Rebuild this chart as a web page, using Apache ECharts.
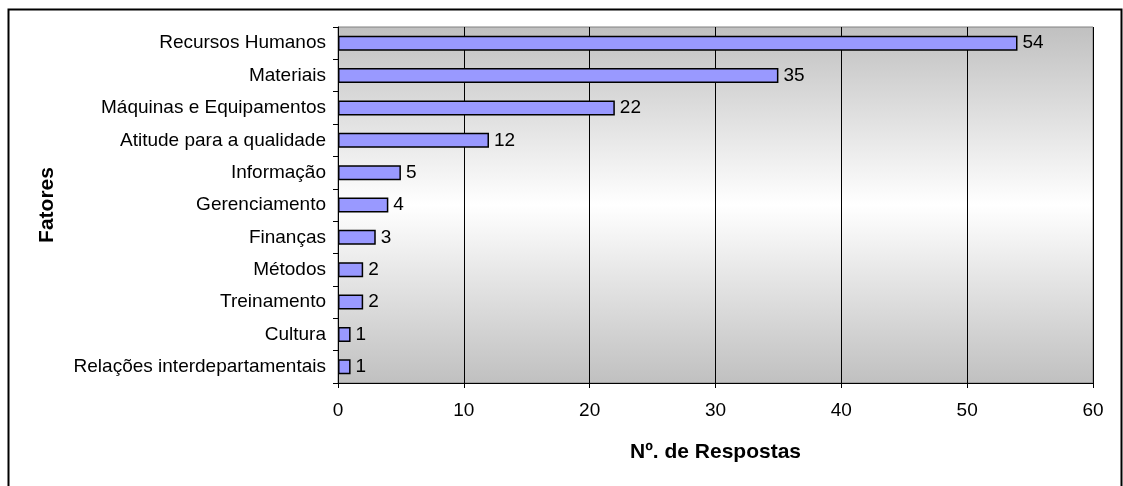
<!DOCTYPE html>
<html>
<head>
<meta charset="utf-8">
<script src="https://cdn.jsdelivr.net/npm/echarts@6/dist/echarts.min.js"></script>
<style>
  html, body { margin: 0; padding: 0; background: #fff; }
  #chart { width: 1123px; height: 486px; }
</style>
</head>
<body>
<div id="chart"></div>
<script>
// categories top-down as in the picture
const fatores = [
    'Recursos Humanos',
    'Materiais',
    'Máquinas e Equipamentos',
    'Atitude para a qualidade',
    'Informação',
    'Gerenciamento',
    'Finanças',
    'Métodos',
    'Treinamento',
    'Cultura',
    'Relações interdepartamentais'
];
const respostas = [54, 35, 22, 12, 5, 4, 3, 2, 2, 1, 1];

const chart = echarts.init(document.getElementById('chart'));

const font = 'Liberation Sans, Arial, sans-serif';

const option = {
    animation: false,
    backgroundColor: '#ffffff',
    textStyle: { fontFamily: font },
    graphic: [
        {
            // frame around the whole picture
            type: 'polyline',
            shape: { points: [[8.5, 500], [8.5, 9.5], [1121.5, 9.5], [1121.5, 500]] },
            style: { stroke: '#000', lineWidth: 2, fill: null },
            z: 100
        }
    ],
    grid: {
        left: 338,
        right: 30,
        top: 27,
        bottom: 103,
        show: true,
        borderColor: '#808080',
        borderWidth: 1,
        backgroundColor: new echarts.graphic.LinearGradient(0, 0, 0, 1, [
            { offset: 0, color: '#c0c0c0' },
            { offset: 0.5, color: '#ffffff' },
            { offset: 1, color: '#c0c0c0' }
        ])
    },
    xAxis: {
        type: 'value',
        min: 0,
        max: 60,
        interval: 10,
        name: 'Nº. de Respostas',
        nameLocation: 'middle',
        nameGap: 59,
        nameTextStyle: { fontFamily: font, fontSize: 21, fontWeight: 'bold', color: '#000' },
        axisLine: { show: true, lineStyle: { color: '#000', width: 1 } },
        axisTick: { show: true, length: 5, lineStyle: { color: '#000' } },
        axisLabel: { fontFamily: font, fontSize: 19, color: '#000', margin: 18 },
        splitLine: { show: true, lineStyle: { color: '#000', width: 1 } }
    },
    yAxis: {
        type: 'category',
        data: fatores,
        inverse: true,
        name: 'Fatores',
        nameLocation: 'middle',
        nameGap: 280,
        nameRotate: 90,
        nameTextStyle: { fontFamily: font, fontSize: 21, fontWeight: 'bold', color: '#000' },
        axisLine: { show: true, lineStyle: { color: '#000', width: 1 } },
        axisTick: { show: true, length: 5, lineStyle: { color: '#000' } },
        axisLabel: { fontFamily: font, fontSize: 19, color: '#000', margin: 12 },
        splitLine: { show: false }
    },
    series: [
        {
            type: 'bar',
            data: respostas,
            barWidth: 15,
            itemStyle: { color: '#9999ff', borderColor: '#000', borderWidth: 1.5 },
            label: {
                show: true,
                position: 'right',
                distance: 5,
                fontFamily: font,
                fontSize: 19,
                color: '#000'
            }
        }
    ]
};

chart.setOption(option);
</script>
</body>
</html>
